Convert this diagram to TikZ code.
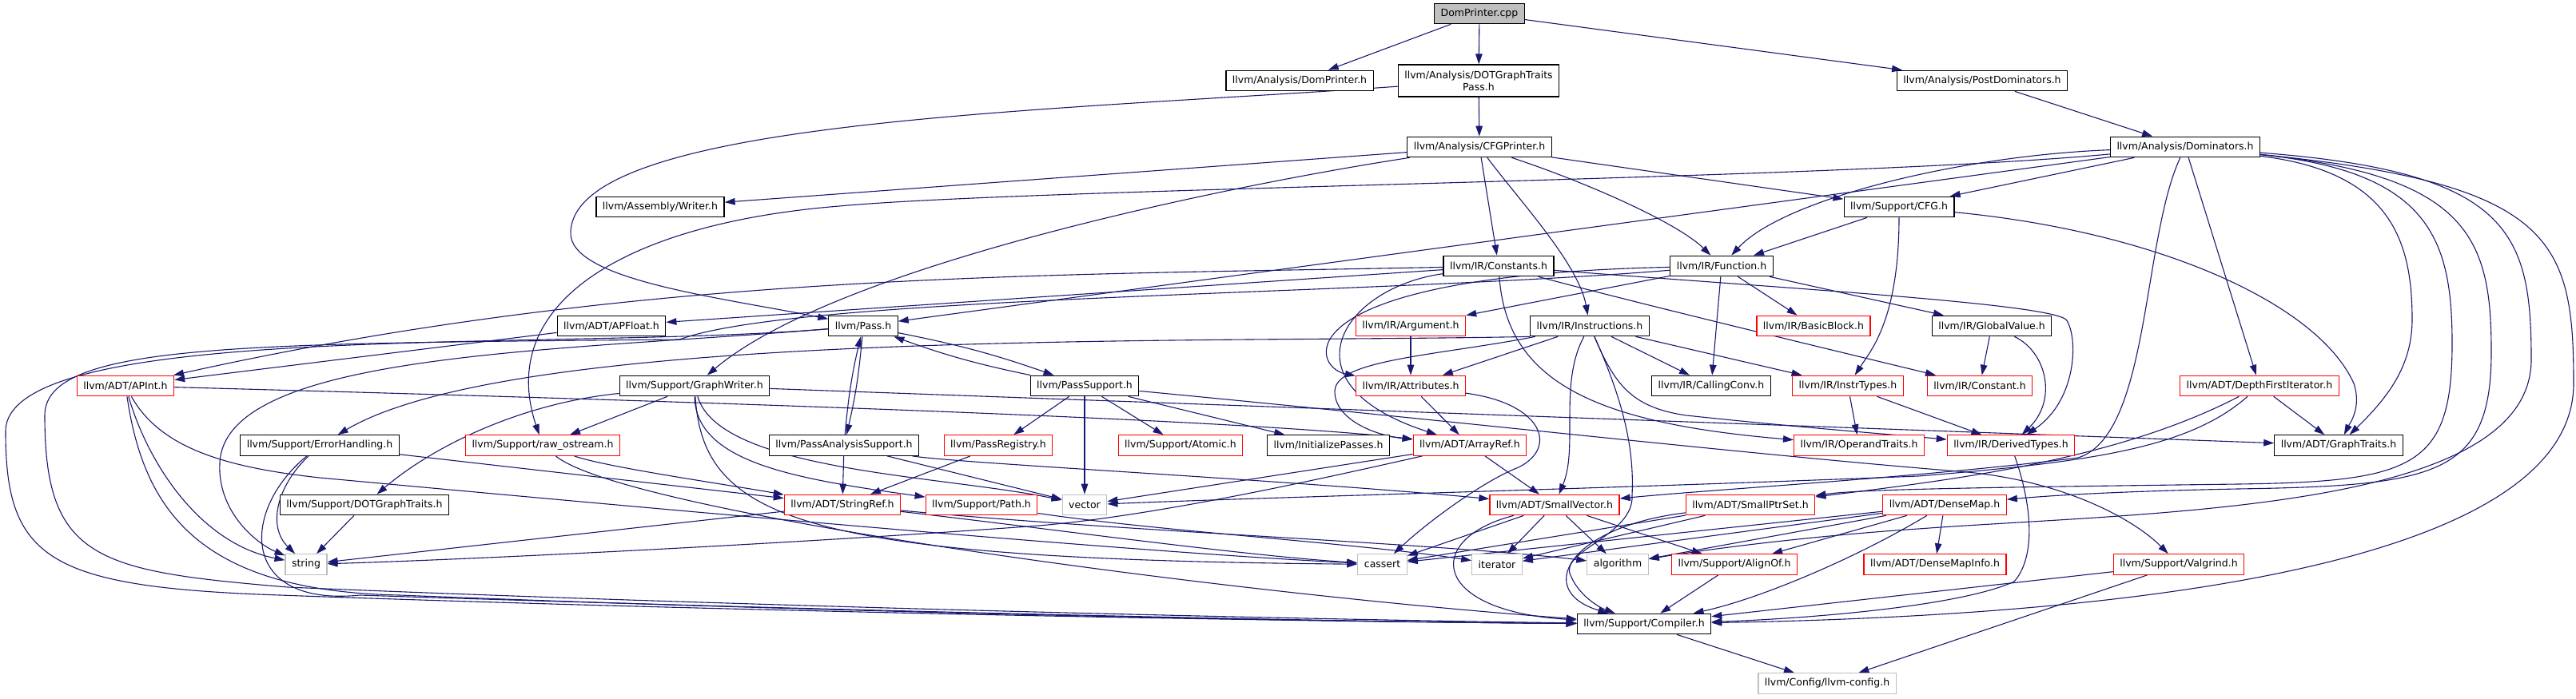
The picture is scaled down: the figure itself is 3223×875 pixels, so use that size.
\documentclass[tikz,border=0pt]{standalone}
\usepackage{fontspec}
\setsansfont{DejaVu Sans}
\usetikzlibrary{arrows.meta,backgrounds}
\definecolor{incblue}{RGB}{25,25,112}
\definecolor{sysgray}{RGB}{191,191,191}

\begin{document}
\begin{tikzpicture}[x=1pt, y=-1pt,
    hdr/.style={draw=black, line width=1.2pt, fill=white, minimum height=25.5pt, inner xsep=8pt, inner ysep=2pt,
      font=\sffamily\fontsize{12.5}{15}\selectfont},
    redhdr/.style={hdr, draw=red},
    syshdr/.style={hdr, draw=sysgray},
    roothdr/.style={hdr, fill=sysgray},
    inc/.style={draw=incblue, line width=1.1pt, -{Triangle[length=13pt,width=8.5pt]}}
  ]
  \useasboundingbox (0,0) rectangle (3223,875);

  % top rows
  \node[roothdr] (root) at (1851,17) {DomPrinter.cpp};
  \node[hdr] (dph) at (1626,101) {llvm/Analysis/DomPrinter.h};
  \node[hdr, align=center, minimum height=40pt] (dotgtp) at (1850,101) {llvm/Analysis/DOTGraphTraits\\Pass.h};
  \node[hdr] (postdom) at (2480,101) {llvm/Analysis/PostDominators.h};
  \node[hdr] (cfgp) at (1851,184) {llvm/Analysis/CFGPrinter.h};
  \node[hdr] (dom) at (2734,184) {llvm/Analysis/Dominators.h};
  \node[hdr] (writer) at (826,259) {llvm/Assembly/Writer.h};
  \node[hdr] (cfg) at (2376,259) {llvm/Support/CFG.h};
  \node[hdr] (constants) at (1875,333) {llvm/IR/Constants.h};
  \node[hdr] (function) at (2154,333) {llvm/IR/Function.h};

  % middle rows
  \node[hdr] (apfloat) at (765,408) {llvm/ADT/APFloat.h};
  \node[hdr] (pass) at (1080,408) {llvm/Pass.h};
  \node[redhdr] (argument) at (1765,408) {llvm/IR/Argument.h};
  \node[hdr] (instructions) at (1989,408) {llvm/IR/Instructions.h};
  \node[redhdr] (basicblock) at (2269,408) {llvm/IR/BasicBlock.h};
  \node[hdr] (globalvalue) at (2492,408) {llvm/IR/GlobalValue.h};
  \node[redhdr] (apint) at (157,483) {llvm/ADT/APInt.h};
  \node[hdr] (graphwriter) at (869,483) {llvm/Support/GraphWriter.h};
  \node[hdr] (passsupport) at (1357,483) {llvm/PassSupport.h};
  \node[redhdr] (attributes) at (1765,483) {llvm/IR/Attributes.h};
  \node[hdr] (callingconv) at (2141,483) {llvm/IR/CallingConv.h};
  \node[redhdr] (instrtypes) at (2312,483) {llvm/IR/InstrTypes.h};
  \node[redhdr] (constant) at (2477,483) {llvm/IR/Constant.h};
  \node[redhdr] (dfi) at (2827,483) {llvm/ADT/DepthFirstIterator.h};
  \node[hdr] (errorh) at (400,557.5) {llvm/Support/ErrorHandling.h};
  \node[redhdr] (rawos) at (679,557.5) {llvm/Support/raw\_ostream.h};
  \node[hdr] (pas) at (1056,557.5) {llvm/PassAnalysisSupport.h};
  \node[redhdr] (passreg) at (1249,557.5) {llvm/PassRegistry.h};
  \node[redhdr] (atomic) at (1477,557.5) {llvm/Support/Atomic.h};
  \node[hdr] (initp) at (1662,557.5) {llvm/InitializePasses.h};
  \node[redhdr] (arrayref) at (1839,557.5) {llvm/ADT/ArrayRef.h};
  \node[redhdr] (opt) at (2326,557.5) {llvm/IR/OperandTraits.h};
  \node[redhdr] (derived) at (2516,557.5) {llvm/IR/DerivedTypes.h};
  \node[hdr] (graphtraits) at (2926,557.5) {llvm/ADT/GraphTraits.h};

  % bottom rows
  \node[hdr] (dotgt) at (456,632) {llvm/Support/DOTGraphTraits.h};
  \node[redhdr] (stringref) at (1054,632) {llvm/ADT/StringRef.h};
  \node[redhdr] (path) at (1228,632) {llvm/Support/Path.h};
  \node[syshdr] (vector) at (1357,632) {vector};
  \node[redhdr] (smallvec) at (1945,632) {llvm/ADT/SmallVector.h};
  \node[redhdr] (smallptr) at (2190,632) {llvm/ADT/SmallPtrSet.h};
  \node[redhdr] (densemap) at (2433,632) {llvm/ADT/DenseMap.h};
  \node[syshdr] (string) at (383,706.5) {string};
  \node[syshdr] (cassert) at (1729.5,706.5) {cassert};
  \node[syshdr] (iterator) at (1873,706.5) {iterator};
  \node[syshdr] (algorithm) at (2024,706.5) {algorithm};
  \node[redhdr] (alignof) at (2170,706.5) {llvm/Support/AlignOf.h};
  \node[redhdr] (dmi) at (2421,706.5) {llvm/ADT/DenseMapInfo.h};
  \node[redhdr] (valgrind) at (2726,706.5) {llvm/Support/Valgrind.h};
  \node[hdr] (compiler) at (2057,781) {llvm/Support/Compiler.h};
  \node[syshdr] (config) at (2286,855.5) {llvm/Config/llvm-config.h};

  \begin{scope}[on background layer]
  % DomPrinter.cpp
  \draw[inc] (root) -- (dph);
  \draw[inc] (root) -- (dotgtp);
  \draw[inc] (root) -- (postdom);

  % DOTGraphTraitsPass.h
  \draw[inc] (dotgtp) -- (cfgp);
  \draw[inc] (dotgtp) .. controls (1300,140) and (720,150) .. (714,290) .. controls (710,350) and (900,372) .. (pass);

  % PostDominators.h
  \draw[inc] (postdom) -- (dom);

  % CFGPrinter.h
  \draw[inc] (cfgp) -- (writer);
  \draw[inc] (cfgp) .. controls (1550,230) and (1050,330) .. (graphwriter);
  \draw[inc] (cfgp) -- (constants);
  \draw[inc] (cfgp) .. controls (1900,250) and (1975,330) .. (instructions);
  \draw[inc] (cfgp) .. controls (1990,230) and (2100,280) .. (function);
  \draw[inc] (cfgp) -- (cfg);

  % Dominators.h
  \draw[inc] (dom) .. controls (2300,225) and (1300,235) .. (1050,258) .. controls (780,280) and (620,380) .. (rawos);
  \draw[inc] (dom) -- (pass);
  \draw[inc] (dom) .. controls (2450,195) and (2230,250) .. (function);
  \draw[inc] (dom) -- (cfg);
  \draw[inc] (dom) -- (dfi);
  \draw[inc] (dom) .. controls (2680,300) and (2690,545) .. (2600,573) .. controls (2400,598) and (2150,612) .. (smallvec);
  \draw[inc] (dom) .. controls (2990,215) and (3018,300) .. (3018,400) .. controls (3018,460) and (2985,500) .. (graphtraits);
  \draw[inc] (dom) .. controls (3040,215) and (3068,300) .. (3068,430) .. controls (3068,585) and (3020,603) .. (2800,606) .. controls (2500,610) and (2330,612) .. (smallptr);
  \draw[inc] (dom) .. controls (3090,220) and (3117,300) .. (3117,440) .. controls (3117,595) and (3050,608) .. (2800,612) .. controls (2650,615) and (2570,620) .. (densemap);
  \draw[inc] (dom) .. controls (3140,215) and (3167,290) .. (3167,450) .. controls (3167,640) and (2700,640) .. (2400,662) .. controls (2250,672) and (2120,690) .. (algorithm);
  \draw[inc] (dom) .. controls (3195,230) and (3220,300) .. (3220,480) .. controls (3220,700) and (2700,770) .. (compiler);

  % CFG.h
  \draw[inc] (cfg) -- (function);
  \draw[inc] (cfg) .. controls (2376,400) and (2340,440) .. (instrtypes);
  \draw[inc] (cfg) .. controls (2700,290) and (2900,380) .. (2945,480) .. controls (2955,510) and (2940,530) .. (graphtraits);

  % Constants.h
  \draw[inc] (constants) -- (apfloat);
  \draw[inc] (constants) .. controls (1300,345) and (800,340) .. (apint);
  \draw[inc] (constants) .. controls (1680,360) and (1600,480) .. (arrayref);
  \draw[inc] (constants) .. controls (1885,480) and (2000,530) .. (opt);
  \draw[inc] (constants) .. controls (2050,380) and (2300,440) .. (constant);
  \draw[inc] (constants) .. controls (2250,362) and (2560,380) .. (2585,400) .. controls (2600,420) and (2600,500) .. (derived);

  % Function.h
  \draw[inc] (function) -- (argument);
  \draw[inc] (function) .. controls (1600,345) and (1640,460) .. (attributes);
  \draw[inc] (function) -- (basicblock);
  \draw[inc] (function) -- (callingconv);
  \draw[inc] (function) -- (globalvalue);
  \draw[inc] (function) .. controls (1700,370) and (1000,370) .. (850,425) .. controls (300,430) and (56,430) .. (56,520)
    .. controls (56,700) and (120,715) .. (360,735) .. controls (900,758) and (1600,775) .. (compiler);

  % Argument.h
  \draw[inc] (argument) -- (attributes);

  % Instructions.h
  \draw[inc] (instructions) .. controls (1800,445) and (1670,450) .. (1670,490) .. controls (1670,525) and (1720,545) .. (arrayref);
  \draw[inc] (instructions) -- (attributes);
  \draw[inc] (instructions) -- (callingconv);
  \draw[inc] (instructions) -- (instrtypes);
  \draw[inc] (instructions) .. controls (2020,480) and (2040,510) .. (2110,520) .. controls (2250,535) and (2380,545) .. (derived);
  \draw[inc] (instructions) .. controls (1950,480) and (1975,560) .. (smallvec);
  \draw[inc] (instructions) .. controls (2030,500) and (2045,560) .. (2042,620) .. controls (2045,670) and (1950,690) .. (1965,720) .. controls (1975,745) and (2000,760) .. (compiler);
  \draw[inc] (instructions.south west) .. controls (1500,430) and (650,410) .. (errorh);

  % GlobalValue.h
  \draw[inc] (globalvalue) -- (constant);
  \draw[inc] (globalvalue) .. controls (2560,440) and (2575,500) .. (derived);

  % InstrTypes.h
  \draw[inc] (instrtypes) -- (opt);
  \draw[inc] (instrtypes) -- (derived);

  % DepthFirstIterator.h
  \draw[inc] (dfi) -- (graphtraits);
  \draw[inc] (dfi) .. controls (2650,575) and (2450,600) .. (smallptr);
  \draw[inc] (dfi) .. controls (2740,560) and (2620,578) .. (2400,596) .. controls (2000,612) and (1600,622) .. (vector);

  % Attributes.h
  \draw[inc] (attributes) -- (arrayref);
  \draw[inc] (attributes) .. controls (1930,505) and (1950,560) .. (1900,585) .. controls (1860,600) and (1790,650) .. (cassert);

  % ArrayRef.h
  \draw[inc] (arrayref) -- (vector);
  \draw[inc] (arrayref) -- (smallvec);
  \draw[inc] (arrayref) .. controls (1650,600) and (1450,645) .. (1300,658) .. controls (1000,680) and (600,700) .. (string);

  % StringRef.h
  \draw[inc] (stringref) -- (string);
  \draw[inc] (stringref) .. controls (1300,660) and (1550,695) .. (cassert);
  \draw[inc] (stringref) .. controls (1400,665) and (1800,680) .. (algorithm);

  % Path.h
  \draw[inc] (path) .. controls (1450,665) and (1700,680) .. (iterator);

  % raw_ostream.h
  \draw[inc] (rawos) .. controls (760,585) and (900,605) .. (stringref);
  \draw[inc] (rawos) .. controls (780,640) and (1500,740) .. (compiler);

  % ErrorHandling.h
  \draw[inc] (errorh) -- (stringref);
  \draw[inc] (errorh) .. controls (345,610) and (335,660) .. (string);
  \draw[inc] (errorh) .. controls (300,640) and (300,760) .. (450,745) .. controls (900,760) and (1600,778) .. (compiler);

  % APInt.h, APFloat.h
  \draw[inc] (apint) .. controls (180,640) and (250,740) .. (500,745) .. controls (1000,765) and (1600,778) .. (compiler);
  \draw[inc] (apint) .. controls (185,580) and (250,680) .. (string);
  \draw[inc] (apint) .. controls (200,560) and (280,585) .. (400,598) .. controls (800,635) and (1400,690) .. (cassert);
  \draw[inc] (apint) .. controls (600,495) and (1500,520) .. (arrayref);
  \draw[inc] (apfloat) -- (apint);

  % Pass.h
  \draw[inc] (pass) to[bend left=4] (passsupport);
  \draw[inc] (passsupport) to[bend left=4] (pass);
  \draw[inc] (pass) to[bend left=4] (pas);
  \draw[inc] (pas) to[bend left=4] (pass);
  \draw[inc] (pass) .. controls (700,440) and (7,400) .. (7,540) .. controls (7,700) and (60,735) .. (350,745) .. controls (900,765) and (1600,778) .. (compiler);
  \draw[inc] (pass) .. controls (700,440) and (280,440) .. (275,580) .. controls (272,640) and (320,680) .. (string);

  % PassSupport.h
  \draw[inc] (passsupport) -- (passreg);
  \draw[inc] (passsupport) -- (atomic);
  \draw[inc] (passsupport) -- (initp);
  \draw[inc] (passsupport) -- (vector);
  \draw[inc] (passsupport) .. controls (1800,525) and (2200,570) .. (2450,590) .. controls (2580,600) and (2670,650) .. (valgrind);

  % PassAnalysisSupport.h, PassRegistry.h
  \draw[inc] (pas) -- (stringref);
  \draw[inc] (pas) .. controls (1200,580) and (1600,600) .. (smallvec);
  \draw[inc] (pas) -- (vector);
  \draw[inc] (passreg) -- (stringref);

  % GraphWriter.h
  \draw[inc] (graphwriter) -- (rawos);
  \draw[inc] (graphwriter) .. controls (650,505) and (540,560) .. (dotgt);
  \draw[inc] (graphwriter) .. controls (870,580) and (1000,600) .. (path);
  \draw[inc] (graphwriter) .. controls (900,590) and (1180,595) .. (vector);
  \draw[inc] (graphwriter) .. controls (880,650) and (1000,700) .. (cassert);
  \draw[inc] (graphwriter) -- (graphtraits);

  % DOTGraphTraits.h
  \draw[inc] (dotgt) -- (string);

  % SmallVector.h
  \draw[inc] (smallvec) -- (cassert);
  \draw[inc] (smallvec) -- (iterator);
  \draw[inc] (smallvec) -- (algorithm);
  \draw[inc] (smallvec) -- (alignof);
  \draw[inc] (smallvec) .. controls (1780,675) and (1790,765) .. (compiler);

  % SmallPtrSet.h
  \draw[inc] (smallptr) -- (cassert);
  \draw[inc] (smallptr) -- (iterator);
  \draw[inc] (smallptr) .. controls (1960,660) and (1920,740) .. (compiler);

  % DenseMap.h
  \draw[inc] (densemap) -- (cassert);
  \draw[inc] (densemap) -- (iterator);
  \draw[inc] (densemap) -- (algorithm);
  \draw[inc] (densemap) -- (alignof);
  \draw[inc] (densemap) -- (dmi);
  \draw[inc] (densemap) .. controls (2320,700) and (2200,750) .. (compiler);

  % lower headers
  \draw[inc] (alignof) -- (compiler);
  \draw[inc] (derived) .. controls (2545,640) and (2545,700) .. (2520,728) .. controls (2450,760) and (2250,775) .. (compiler);
  \draw[inc] (valgrind) -- (compiler);
  \draw[inc] (valgrind) -- (config);
  \draw[inc] (compiler) -- (config);
  \end{scope}
\end{tikzpicture}
\end{document}
